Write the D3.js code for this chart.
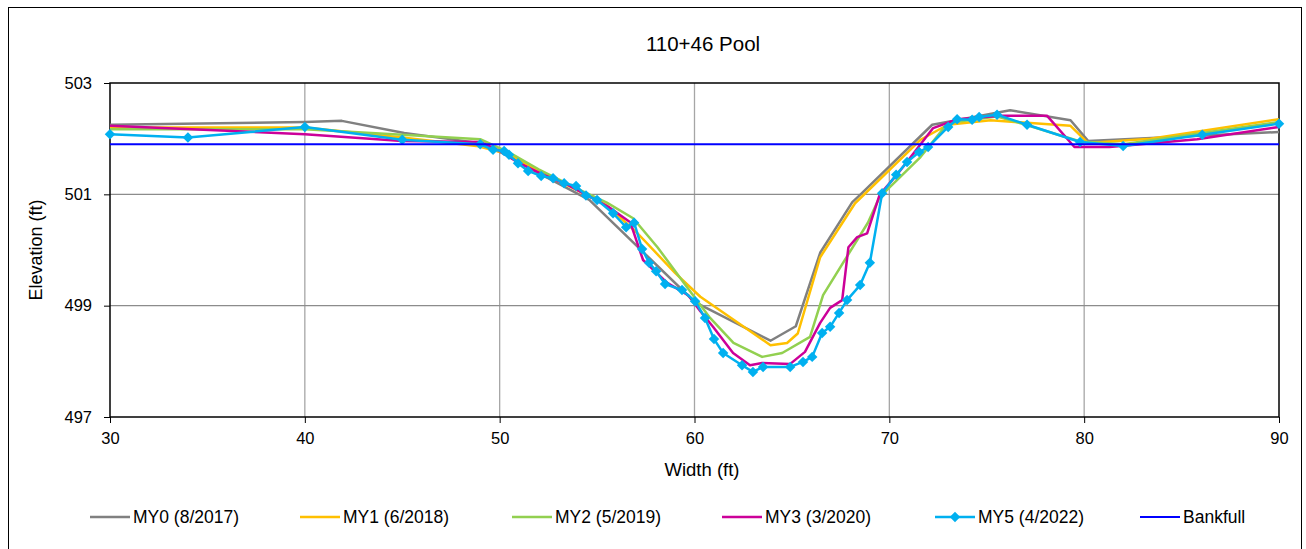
<!DOCTYPE html>
<html>
<head>
<meta charset="utf-8">
<script src="https://cdn.jsdelivr.net/npm/d3@7"></script>
<style>
  body { margin: 0; background: #fff; }
  svg text { font-family: "Liberation Sans", Arial, sans-serif; fill: #000; }
</style>
</head>
<body>
<div id="chart"></div>
<script>
// survey data, [width ft, elevation ft]
const my0 = [[30,502.25],[40,502.30],[41.9,502.32],[45.1,502.10],[49,501.92],[50.5,501.68],[52,501.38],[54.6,500.90],
  [60,499.07],[63.9,498.37],[65.2,498.63],[66.45,499.95],[68.1,500.86],[68.5,500.99],[72.2,502.25],[76.2,502.51],
  [79.3,502.33],[80.2,501.96],[90,502.12]];
const my1 = [[30,502.20],[40,502.20],[45,502.02],[48.8,501.87],[50.5,501.72],[52,501.42],[54,501.07],[55.5,500.80],
  [57.05,500.31],[59,499.59],[60.3,499.16],[63.9,498.29],[64.75,498.33],[65.3,498.50],[66.45,499.87],[68.24,500.84],
  [71.6,501.98],[73,502.25],[75.2,502.33],[79.3,502.23],[80.2,501.92],[83.4,502.00],[90,502.35]];
const my2 = [[30,502.17],[40,502.17],[45,502.07],[49,501.99],[50.5,501.75],[52,501.45],[54,501.10],[55.5,500.85],
  [56.85,500.57],[58.1,500.05],[59.6,499.34],[60.8,498.78],[62,498.33],[63.47,498.08],[64.5,498.15],[65.93,498.44],
  [66.6,499.19],[68.9,500.49],[69.5,500.95],[71.6,501.67],[73,502.28],[75.5,502.40],[77,502.25],[79.8,501.95],
  [82,501.90],[90,502.30]];
const my3 = [[30,502.23],[40,502.08],[45,501.96],[49,501.94],[50,501.78],[51,501.56],[52.2,501.36],[53.5,501.17],
  [54.5,500.98],[55.6,500.77],[56.7,500.50],[57.36,499.82],[58.6,499.41],[59.67,499.19],[60.3,498.90],[60.95,498.62],
  [61.98,498.15],[62.85,497.93],[63.47,497.97],[64.9,497.95],[65.67,498.17],[66.45,498.69],[66.96,498.96],[67.58,499.10],
  [67.9,500.05],[68.35,500.23],[68.86,500.30],[69.5,500.99],[70.5,501.40],[72.25,502.19],[73.5,502.35],[75.7,502.41],
  [78.1,502.41],[79.5,501.85],[81.3,501.85],[85.8,501.99],[90,502.21]];
const my5 = [[30,502.08],[34,502.02],[40,502.21],[45,501.98],[49,501.90],[49.66,501.80],[50.23,501.78],[50.48,501.71],
  [50.94,501.56],[51.46,501.42],[52.13,501.33],[52.74,501.29],[53.31,501.20],[53.92,501.15],[54.43,500.98],[55,500.90],
  [55.82,500.66],[56.49,500.41],[56.9,500.49],[57.31,500.02],[57.67,499.77],[58.03,499.62],[58.49,499.39],[59.36,499.28],
  [60.03,499.08],[60.54,498.78],[61,498.40],[61.47,498.15],[62.44,497.93],[63,497.81],[63.52,497.90],[64.91,497.90],
  [65.57,497.99],[66.04,498.08],[66.55,498.51],[66.96,498.62],[67.42,498.87],[67.83,499.10],[68.5,499.37],[69,499.77],
  [69.63,501.02],[70.35,501.35],[70.91,501.58],[71.53,501.76],[71.99,501.85],[73.02,502.21],[73.48,502.35],[74.25,502.34],
  [74.61,502.39],[75.53,502.43],[77.07,502.25],[79.79,501.94],[82,501.87],[86.06,502.07],[90,502.27]];
const bankfull = [[30,501.9],[90,501.9]];

const seriesNames = ["MY0 (8/2017)","MY1 (6/2018)","MY2 (5/2019)","MY3 (3/2020)","MY5 (4/2022)","Bankfull"];
const seriesColors = ["#808080","#FFC000","#92D050","#CC0099","#00B0F0","#0000FF"];
const xTicks = [30,40,50,60,70,80,90];
const yTicks = [497,499,501,503];

const W = 1306, H = 549;
const m = {left:110, right:27, top:83, bottom:132};

const svg = d3.select("#chart").append("svg")
    .attr("width", W)
    .attr("height", H);

// outer chart frame
svg.append("rect")
    .attr("x", 8.5).attr("y", 7.5)
    .attr("width", 1293).attr("height", 580)
    .attr("fill", "none").attr("stroke", "#000").attr("stroke-width", 1);

const x = d3.scaleLinear().domain([30,90]).range([m.left, W - m.right]);
const y = d3.scaleLinear().domain([497,503]).range([H - m.bottom, m.top]);

// grid
svg.append("g").selectAll("line.vg")
    .data(xTicks.slice(1, -1))
    .enter().append("line")
    .attr("x1", d => x(d)).attr("x2", d => x(d))
    .attr("y1", y(503)).attr("y2", y(497))
    .attr("stroke", "#a6a6a6").attr("stroke-width", 1.3);
svg.append("g").selectAll("line.hg")
    .data(yTicks.slice(1, -1))
    .enter().append("line")
    .attr("x1", x(30)).attr("x2", x(90))
    .attr("y1", d => y(d)).attr("y2", d => y(d))
    .attr("stroke", "#8c8c8c").attr("stroke-width", 1.3);

// plot border
svg.append("rect")
    .attr("x", x(30)).attr("y", y(503))
    .attr("width", x(90) - x(30)).attr("height", y(497) - y(503))
    .attr("fill", "none").attr("stroke", "#000").attr("stroke-width", 1.5);

// axes
const xAxis = d3.axisBottom(x).tickValues(xTicks).tickFormat(d3.format("d"))
    .tickSize(6).tickSizeOuter(0).tickPadding(9);
const yAxis = d3.axisLeft(y).tickValues(yTicks).tickFormat(d3.format("d"))
    .tickSize(6).tickSizeOuter(0).tickPadding(12);

const gx = svg.append("g").attr("transform", `translate(0,${y(497)})`).call(xAxis);
const gy = svg.append("g").attr("transform", `translate(${x(30)},0)`).call(yAxis);
[gx, gy].forEach(g => {
    g.select(".domain").remove();
    g.selectAll(".tick line").attr("stroke", "#000").attr("stroke-width", 1);
    g.selectAll(".tick text").style("font-size", "16.5px");
});

const line = d3.line().x(d => x(d[0])).y(d => y(d[1]));

const allSeries = [my0, my1, my2, my3, my5];
allSeries.forEach((s, i) => {
    svg.append("path")
        .datum(s)
        .attr("d", line)
        .attr("fill", "none")
        .attr("stroke", seriesColors[i])
        .attr("stroke-width", 2.5)
        .attr("stroke-linejoin", "round");
});

// diamond markers on MY5
const diamond = d3.symbol().type(d3.symbolDiamond2).size(70);
svg.append("g").selectAll("path")
    .data(my5)
    .enter().append("path")
    .attr("d", diamond)
    .attr("transform", d => `translate(${x(d[0])},${y(d[1])})`)
    .attr("fill", seriesColors[4]);

// bankfull on top
svg.append("path").datum(bankfull).attr("d", line)
    .attr("fill", "none").attr("stroke", seriesColors[5]).attr("stroke-width", 2);

// titles
svg.append("text")
    .attr("x", 703).attr("y", 51)
    .attr("text-anchor", "middle")
    .style("font-size", "20.5px")
    .text("110+46 Pool");

svg.append("text")
    .attr("x", 702).attr("y", 476)
    .attr("text-anchor", "middle")
    .style("font-size", "18.5px")
    .text("Width (ft)");

svg.append("text")
    .attr("transform", `translate(42,${(y(497) + y(503)) / 2}) rotate(-90)`)
    .attr("text-anchor", "middle")
    .style("font-size", "18px")
    .text("Elevation (ft)");

// legend
const legendX = [90, 300, 512, 722, 935, 1140];
const legendY = 517;
const lg = svg.append("g");
seriesNames.forEach((name, i) => {
    lg.append("line")
        .attr("x1", legendX[i]).attr("x2", legendX[i] + 40)
        .attr("y1", legendY).attr("y2", legendY)
        .attr("stroke", seriesColors[i])
        .attr("stroke-width", i === 5 ? 2 : 2.5);
    if (i === 4) {
        lg.append("path")
            .attr("d", diamond)
            .attr("transform", `translate(${legendX[i] + 20},${legendY})`)
            .attr("fill", seriesColors[i]);
    }
    lg.append("text")
        .attr("x", legendX[i] + 43).attr("y", legendY + 6)
        .style("font-size", "17.5px")
        .text(name);
});
</script>
</body>
</html>
